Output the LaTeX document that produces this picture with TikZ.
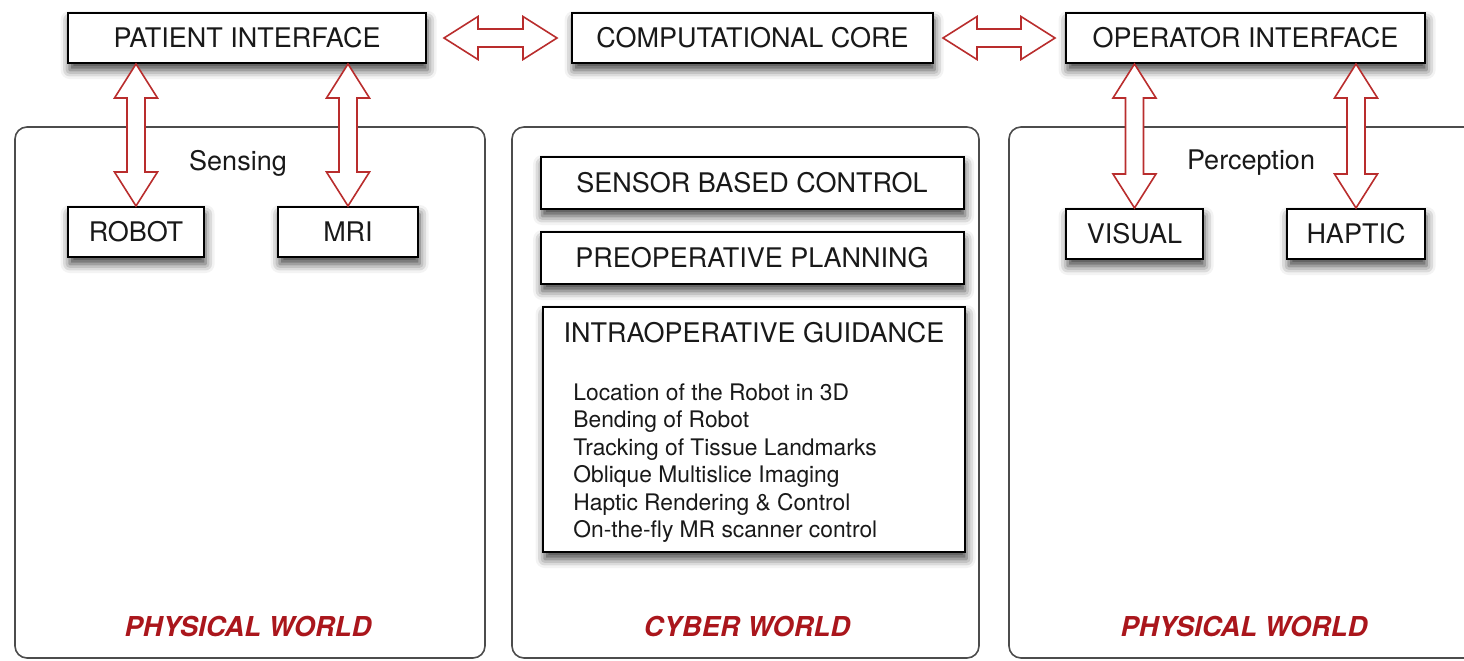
\documentclass[tikz,border=0pt]{standalone}
\usepackage{fontspec}
\setmainfont{TeX Gyre Heros}
\usetikzlibrary{calc,shadows.blur}

\definecolor{arrowred}{RGB}{185,45,45}
\definecolor{worldred}{RGB}{170,22,28}

% hollow two-headed arrow from #1 to #2
\newcommand{\fatarrow}[2]{%
  \filldraw[hollow] (#1)
    -- ($(#1)!17pt!(#2)!10.75pt!90:(#2)$)
    -- ($(#1)!17pt!(#2)!4.5pt!90:(#2)$)
    -- ($(#2)!17pt!(#1)!4.5pt!-90:(#1)$)
    -- ($(#2)!17pt!(#1)!10.75pt!-90:(#1)$)
    -- (#2)
    -- ($(#2)!17pt!(#1)!10.75pt!90:(#1)$)
    -- ($(#2)!17pt!(#1)!4.5pt!90:(#1)$)
    -- ($(#1)!17pt!(#2)!4.5pt!-90:(#2)$)
    -- ($(#1)!17pt!(#2)!10.75pt!-90:(#2)$)
    -- cycle;}

\begin{document}
\begin{tikzpicture}[x=0.5pt,y=-0.5pt,
	box/.style={draw=black, line width=1pt, fill=white, inner sep=0pt,
		minimum height=25pt, font=\fontsize{13.5}{16}\selectfont, text=black!90,
		blur shadow={shadow xshift=0.8pt, shadow yshift=-3.5pt,
			shadow blur radius=4.5pt, shadow opacity=75}},
	panel/.style={draw=black!70, line width=0.8pt, rounded corners=6pt,
		minimum width=235pt, minimum height=265.5pt},
	hollow/.style={draw=arrowred, fill=white, line width=0.8pt, line join=miter},
	heading/.style={font=\fontsize{13.5}{16}\selectfont, text=black!90},
	world/.style={text=worldred, font=\fontsize{13.7}{16}\selectfont\bfseries\itshape}]
	
	\useasboundingbox (0,0) rectangle (1464,660);
	\clip (0,0) rectangle (1464,660);
	
	% the three worlds
	\node[panel] (physleft) at (250,392.5) {};
	\node[panel, minimum width=233.5pt] (cyber) at (745.5,392.5) {};
	\node[panel] (physright) at (1244,392.5) {};
	
	\node[heading] (sensing) at (238,163) {Sensing};
	\node[heading] (perception) at (1251,163) {Perception};
	
	\node[world] (physleftlabel) at (248,627) {PHYSICAL WORLD};
	\node[world] (cyberlabel) at (747,627) {CYBER WORLD};
	\node[world] (physrightlabel) at (1244,627) {PHYSICAL WORLD};
	
	% top row
	\node[box, minimum width=179pt] (patient) at (247,38) {PATIENT INTERFACE};
	\node[box, minimum width=180.5pt] (core) at (752.5,38) {COMPUTATIONAL CORE};
	\node[box, minimum width=179.5pt] (operator) at (1245.5,38) {OPERATOR INTERFACE};
	
	\node[box, minimum width=68pt] (robot) at (136,232) {ROBOT};
	\node[box, minimum width=70pt] (mri) at (348,232) {MRI};
	\node[box, minimum width=68.5pt] (visual) at (1134.5,234) {VISUAL};
	\node[box, minimum width=69pt] (haptic) at (1356,234) {HAPTIC};
	
	\node[box, minimum width=211.5pt, minimum height=26pt] (sensorctl) at (752,183) {SENSOR BASED CONTROL};
	\node[box, minimum width=211.5pt, minimum height=26pt] (preop) at (752,258) {PREOPERATIVE PLANNING};
	\node[box, minimum width=211pt, minimum height=122.5pt] (intraop) at (754,429.5) {};
	\node[heading] (intratitle) at (754,333) {INTRAOPERATIVE GUIDANCE};
	\node[anchor=north west, align=left, inner sep=0pt, text=black!90,
		font=\fontsize{11.4}{13.75}\selectfont] (intralist) at (573,383)
		{Location of the Robot in 3D\\Bending of Robot\\Tracking of Tissue Landmarks\\
		Oblique Multislice Imaging\\Haptic Rendering \& Control\\On-the-fly MR scanner control};
	
	% arrows
	\coordinate (pc1) at ([xshift=8.5pt]patient.east);
	\coordinate (pc2) at ([xshift=-7pt]core.west);
	\coordinate (co1) at ([xshift=4.5pt]core.east);
	\coordinate (co2) at ([xshift=-5pt]operator.west);
	\coordinate (pr) at (robot.north |- patient.south);
	\coordinate (pm) at (mri.north |- patient.south);
	\coordinate (ov) at (visual.north |- operator.south);
	\coordinate (oh) at (haptic.north |- operator.south);
	
	\fatarrow{pc1}{pc2}
	\fatarrow{co1}{co2}
	\fatarrow{pr}{robot.north}
	\fatarrow{pm}{mri.north}
	\fatarrow{ov}{visual.north}
	\fatarrow{oh}{haptic.north}
	
\end{tikzpicture}
\end{document}
